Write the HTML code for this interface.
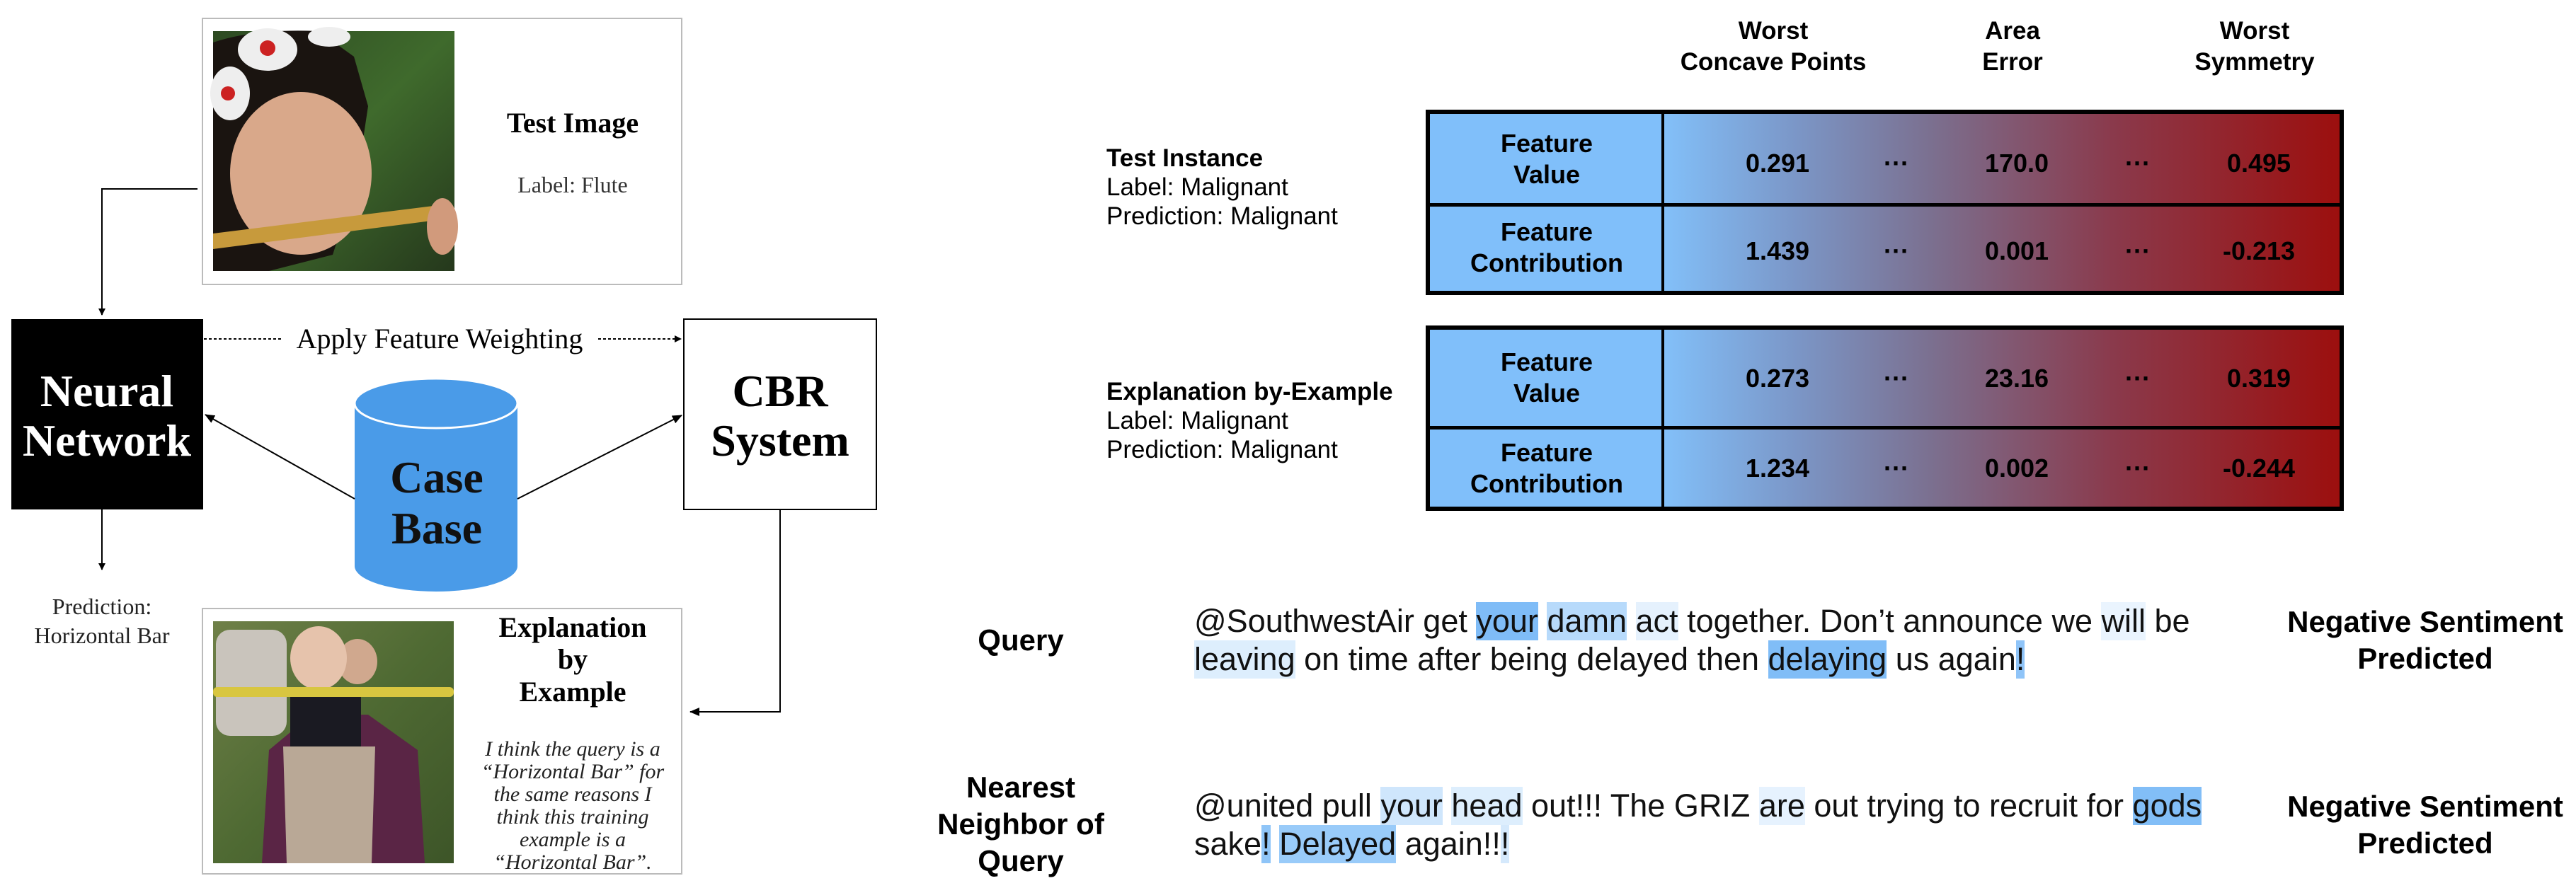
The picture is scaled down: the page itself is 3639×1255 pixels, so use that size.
<!DOCTYPE html>
<html><head><meta charset="utf-8"><style>
body{margin:0;width:3639px;height:1255px;background:#fff;position:relative;overflow:hidden;font-family:"Liberation Sans",sans-serif}
.a{position:absolute}
.c{position:absolute;transform:translate(-50%,-50%);text-align:center;white-space:nowrap}
.tbl{position:absolute;left:2014px;width:1297px;height:262px;border:6px solid #000;box-sizing:border-box;background:linear-gradient(90deg,#82bff8 0,#82bff8 26%,#7b97c8 40%,#7b7090 55%,#8a3a4c 75%,#9c0f0e 100%)}
.lab{position:absolute;left:0;width:327px;background:#80bffa;border-right:4px solid #000}
.sep{position:absolute;left:0;right:0;height:5px;background:#000}
.h{font-weight:bold;font-size:35px;line-height:44px;color:#000}
.v{font-weight:bold;font-size:36px}
.f{font-weight:bold;font-size:36px;line-height:44px}
.lt{position:absolute;left:1563px;font-size:35px;line-height:41px;white-space:nowrap}
.tw{position:absolute;left:1687px;font-size:45px;line-height:54px;white-space:nowrap;color:#111}
.tw span{display:inline-block}
.ns{font-weight:bold;font-size:42px;line-height:52px}
</style></head><body>
<svg class="a" style="left:0;top:0" width="1260" height="1255" viewBox="0 0 1260 1255">
<defs>
<marker id="ar" markerWidth="10" markerHeight="10" refX="9" refY="5" orient="auto" markerUnits="userSpaceOnUse"><path d="M0,0 L10,5 L0,10 z" fill="#000"/></marker>
<marker id="ar2" markerWidth="14" markerHeight="12" refX="13" refY="6" orient="auto" markerUnits="userSpaceOnUse"><path d="M0,0 L14,6 L0,12 z" fill="#000"/></marker>
<linearGradient id="g1" x1="0" y1="0" x2="1" y2="1"><stop offset="0" stop-color="#2d4a22"/><stop offset=".5" stop-color="#3f6a2c"/><stop offset="1" stop-color="#25381c"/></linearGradient>
<linearGradient id="g2" x1="0" y1="0" x2="1" y2="1"><stop offset="0" stop-color="#6f8048"/><stop offset=".5" stop-color="#4f6a33"/><stop offset="1" stop-color="#3d5528"/></linearGradient>
</defs>
<rect x="286" y="26" width="677" height="376" fill="#fff" stroke="#bbb" stroke-width="2"/>
<rect x="301" y="44" width="341" height="339" fill="url(#g1)"/>
<path d="M301,60 Q360,40 450,44 L500,80 L520,150 L505,250 L470,360 L380,383 L301,383 z" fill="#1a1410"/>
<ellipse cx="425" cy="245" rx="100" ry="115" fill="#d9a88a"/>
<ellipse cx="378" cy="70" rx="42" ry="30" fill="#eee"/><circle cx="378" cy="68" r="11" fill="#c22"/>
<ellipse cx="325" cy="132" rx="28" ry="38" fill="#eee"/><circle cx="322" cy="132" r="10" fill="#c22"/>
<ellipse cx="465" cy="52" rx="30" ry="14" fill="#eee"/>
<path d="M301,330 L620,290 L625,310 L301,352 z" fill="#c79a3c"/>
<ellipse cx="625" cy="320" rx="22" ry="40" fill="#d19a7c"/>
<text x="809" y="187" font-family="Liberation Serif,serif" font-weight="bold" font-size="40" text-anchor="middle">Test Image</text>
<text x="809" y="272" font-family="Liberation Serif,serif" font-size="32" text-anchor="middle" fill="#333">Label: Flute</text>
<path d="M279,267 L144,267 L144,445" fill="none" stroke="#000" stroke-width="2" marker-end="url(#ar)"/>
<rect x="16" y="451" width="271" height="269" fill="#000"/>
<text x="151" y="574" font-family="Liberation Serif,serif" font-weight="bold" font-size="64" fill="#fff" text-anchor="middle">Neural</text>
<text x="151" y="644" font-family="Liberation Serif,serif" font-weight="bold" font-size="64" fill="#fff" text-anchor="middle">Network</text>
<rect x="966" y="451" width="272" height="269" fill="#fff" stroke="#000" stroke-width="2"/>
<text x="1102" y="574" font-family="Liberation Serif,serif" font-weight="bold" font-size="64" text-anchor="middle">CBR</text>
<text x="1102" y="644" font-family="Liberation Serif,serif" font-weight="bold" font-size="64" text-anchor="middle">System</text>
<line x1="288" y1="479" x2="398" y2="479" stroke="#000" stroke-width="2" stroke-dasharray="4,3"/>
<line x1="845" y1="479" x2="962" y2="479" stroke="#000" stroke-width="2" stroke-dasharray="4,3" marker-end="url(#ar)"/>
<text x="621" y="492" font-family="Liberation Serif,serif" font-size="40" text-anchor="middle">Apply Feature Weighting</text>
<path d="M501,570 L501,800 A115,36 0 0 0 731,800 L731,570 z" fill="#4a9be8"/>
<ellipse cx="616" cy="570" rx="115" ry="35" fill="#4a9be8" stroke="#fff" stroke-width="3"/>
<text x="617" y="696" font-family="Liberation Serif,serif" font-weight="bold" font-size="64" text-anchor="middle" fill="#111">Case</text>
<text x="617" y="768" font-family="Liberation Serif,serif" font-weight="bold" font-size="64" text-anchor="middle" fill="#111">Base</text>
<line x1="501" y1="705" x2="290" y2="586" stroke="#000" stroke-width="2" marker-end="url(#ar2)"/>
<line x1="731" y1="705" x2="963" y2="587" stroke="#000" stroke-width="2" marker-end="url(#ar2)"/>
<line x1="144" y1="720" x2="144" y2="805" stroke="#000" stroke-width="2" marker-end="url(#ar)"/>
<text x="144" y="868" font-family="Liberation Serif,serif" font-size="32" text-anchor="middle" fill="#222">Prediction:</text>
<text x="144" y="909" font-family="Liberation Serif,serif" font-size="32" text-anchor="middle" fill="#222">Horizontal Bar</text>
<path d="M1102,720 L1102,1006 L975,1006" fill="none" stroke="#000" stroke-width="2" marker-end="url(#ar2)"/>
<rect x="286" y="860" width="677" height="375" fill="#fff" stroke="#bbb" stroke-width="2"/>
<rect x="301" y="878" width="340" height="342" fill="url(#g2)"/>
<rect x="305" y="890" width="100" height="150" rx="20" fill="#c9c4bc"/>
<path d="M370,1220 L380,1060 L440,1010 L520,1010 L590,1060 L600,1220 z" fill="#5a2545"/>
<ellipse cx="505" cy="935" rx="28" ry="32" fill="#d0a88e"/>
<ellipse cx="450" cy="930" rx="40" ry="45" fill="#e6c3ac"/>
<rect x="410" y="985" width="100" height="70" fill="#1a1a22"/>
<path d="M400,1055 L530,1055 L525,1220 L405,1220 z" fill="#b9a896"/>
<rect x="301" y="971" width="340" height="14" rx="6" fill="#d8c640"/>
<text x="809" y="900" font-family="Liberation Serif,serif" font-weight="bold" font-size="40" text-anchor="middle">Explanation</text>
<text x="809" y="945" font-family="Liberation Serif,serif" font-weight="bold" font-size="40" text-anchor="middle">by</text>
<text x="809" y="991" font-family="Liberation Serif,serif" font-weight="bold" font-size="40" text-anchor="middle">Example</text>
<g font-family="Liberation Serif,serif" font-style="italic" font-size="30" text-anchor="middle" fill="#222">
<text x="809" y="1068">I think the query is a</text>
<text x="809" y="1100">“Horizontal Bar” for</text>
<text x="809" y="1132">the same reasons I</text>
<text x="809" y="1164">think this training</text>
<text x="809" y="1196">example is a</text>
<text x="809" y="1228">“Horizontal Bar”.</text>
</g>
</svg>

<div class="c h" style="left:2505px;top:66px">Worst<br>Concave Points</div>
<div class="c h" style="left:2843px;top:66px">Area<br>Error</div>
<div class="c h" style="left:3185px;top:66px">Worst<br>Symmetry</div>

<div class="lt" style="top:203px"><b>Test Instance</b><br>Label: Malignant<br>Prediction: Malignant</div>
<div class="lt" style="top:533px"><b>Explanation by-Example</b><br>Label: Malignant<br>Prediction: Malignant</div>

<div class="tbl" style="top:155px">
 <div class="lab" style="top:0;height:250px"></div>
 <div class="sep" style="top:126px"></div>
 <div class="c f" style="left:165px;top:64px">Feature<br>Value</div>
 <div class="c f" style="left:165px;top:189px">Feature<br>Contribution</div>
 <div class="c v" style="left:491px;top:70px">0.291</div><div class="c v" style="left:659px;top:70px">···</div>
 <div class="c v" style="left:829px;top:70px">170.0</div><div class="c v" style="left:1000px;top:70px">···</div>
 <div class="c v" style="left:1171px;top:70px">0.495</div>
 <div class="c v" style="left:491px;top:194px">1.439</div><div class="c v" style="left:659px;top:194px">···</div>
 <div class="c v" style="left:829px;top:194px">0.001</div><div class="c v" style="left:1000px;top:194px">···</div>
 <div class="c v" style="left:1171px;top:194px">-0.213</div>
</div>
<div class="tbl" style="top:460px">
 <div class="lab" style="top:0;height:250px"></div>
 <div class="sep" style="top:136px"></div>
 <div class="c f" style="left:165px;top:68px">Feature<br>Value</div>
 <div class="c f" style="left:165px;top:196px">Feature<br>Contribution</div>
 <div class="c v" style="left:491px;top:69px">0.273</div><div class="c v" style="left:659px;top:69px">···</div>
 <div class="c v" style="left:829px;top:69px">23.16</div><div class="c v" style="left:1000px;top:69px">···</div>
 <div class="c v" style="left:1171px;top:69px">0.319</div>
 <div class="c v" style="left:491px;top:196px">1.234</div><div class="c v" style="left:659px;top:196px">···</div>
 <div class="c v" style="left:829px;top:196px">0.002</div><div class="c v" style="left:1000px;top:196px">···</div>
 <div class="c v" style="left:1171px;top:196px">-0.244</div>
</div>

<div class="c ns" style="left:1442px;top:905px">Query</div>
<div class="tw" style="top:851px">@SouthwestAir get <span style="background:#7fbcf7">your</span> <span style="background:#b7dafb">damn</span> <span style="background:#e5f1fd">act</span> together. Don’t announce we <span style="background:#eaf4fe">will</span> be<br><span style="background:#ddeefd">leaving</span> on time after being delayed then <span style="background:#80bdf7">delaying</span> us again<span style="background:#8fc4f8">!</span></div>
<div class="c ns" style="left:3426px;top:905px">Negative Sentiment<br>Predicted</div>

<div class="c ns" style="left:1442px;top:1165px;line-height:52px">Nearest<br>Neighbor of<br>Query</div>
<div class="tw" style="top:1112px">@united pull <span style="background:#cfe6fc">your</span> <span style="background:#ddeefd">head</span> out!!! The GRIZ <span style="background:#e6f2fe">are</span> out trying to recruit for <span style="background:#82bef7">gods</span><br>sake<span style="background:#8fc5f8">!</span> <span style="background:#99cbf9">Delayed</span> again!!<span style="background:#d5e9fc">!</span></div>
<div class="c ns" style="left:3426px;top:1166px">Negative Sentiment<br>Predicted</div>
</body></html>
